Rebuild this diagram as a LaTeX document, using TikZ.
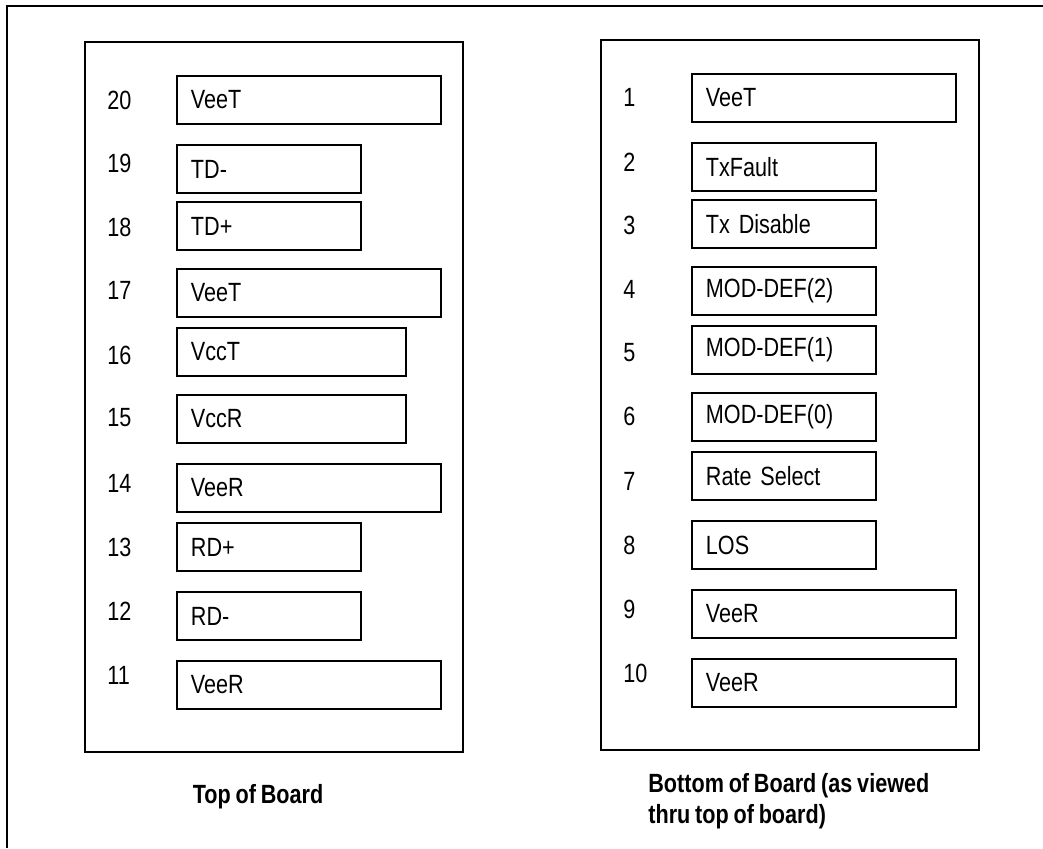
\documentclass[tikz,border=0pt]{standalone}
\usepackage{fontspec}
\setmainfont{Liberation Sans}[FakeStretch=0.82, WordSpace=0.8]
\tikzset{
  board/.style={draw, line width=1.1pt},
  pinbox/.style={draw, line width=1.1pt, anchor=north west, minimum height=0.96cm,
    inner xsep=0.28cm, inner ysep=0pt, align=left},
  widepin/.style={text width=4.72cm},
  narrowpin/.style={text width=3.12cm},
  midpin/.style={text width=4.02cm},
  pinno/.style={anchor=west, inner sep=0pt},
  caption/.style={font=\bfseries\fontsize{15}{17.6}\selectfont, inner sep=0pt}
}
\begin{document}
\begin{tikzpicture}[x=0.02cm, y=-0.02cm, font=\fontsize{15}{18}\selectfont]  % one unit = one pixel of the page
    % Page size and the outer frame
    \useasboundingbox (0,0) rectangle (1043,848);
    \draw[board] (7,848) -- (7,6) -- (1043,6);

    % Top of board: pins 20 down to 11
    \node[board, anchor=north west, minimum width=7.56cm, minimum height=14.2cm] (topboard) at (84,41) {};
    \foreach \n/\sig/\w/\yb/\yn in {20/VeeT/widepin/75/100, 19/TD-/narrowpin/144/163,
        18/TD+/narrowpin/201/227, 17/VeeT/widepin/268/290, 16/VccT/midpin/327/355,
        15/VccR/midpin/394/418, 14/VeeR/widepin/463/483, 13/RD+/narrowpin/522/547,
        12/RD-/narrowpin/591/611, 11/VeeR/widepin/660/675} {
        \node[pinbox, \w] (pin\n) at (176,\yb) {\sig};
        \node[pinno] (num\n) at (107,\yn) {\n};
    }
    \node[caption] (toplabel) at (258,797) {Top of Board};

    % Bottom of board: pins 1 to 10
    \node[board, anchor=north west, minimum width=7.56cm, minimum height=14.2cm] (botboard) at (600,39) {};
    \foreach \n/\sig/\w/\yb/\yn in {1/VeeT/widepin/73/97, 2/TxFault/narrowpin/142/162,
        3/Tx Disable/narrowpin/199/225, 4/MOD-DEF(2)/narrowpin/266/289,
        5/MOD-DEF(1)/narrowpin/325/353, 6/MOD-DEF(0)/narrowpin/392/416,
        7/Rate Select/narrowpin/451/481, 8/LOS/narrowpin/520/545,
        9/VeeR/widepin/589/609, 10/VeeR/widepin/658/673} {
        \node[pinbox, \w] (pin\n) at (691,\yb) {\sig};
        \node[pinno] (num\n) at (623,\yn) {\n};
    }
    \node[caption, anchor=west, align=left] (botlabel) at (648,801) {Bottom of Board (as viewed\\thru top of board)};
\end{tikzpicture}
\end{document}
